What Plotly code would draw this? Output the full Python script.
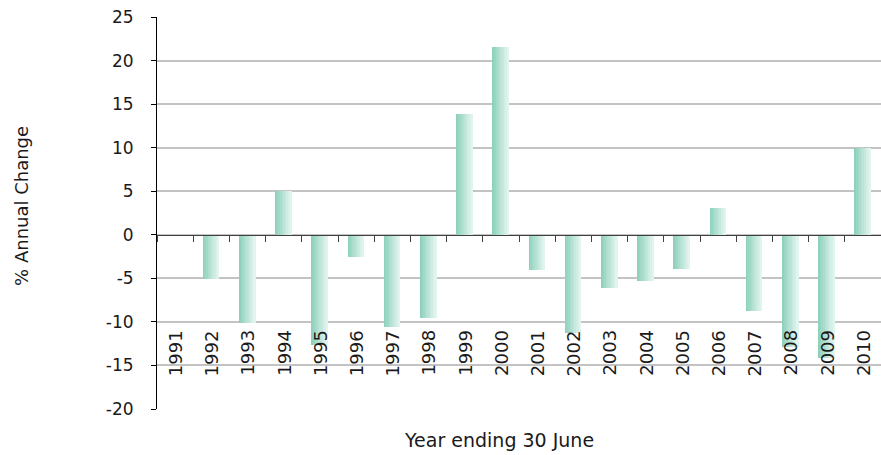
import plotly.graph_objects as go

years = [str(y) for y in range(1991, 2011)]
values = [0.0, -5.1, -10.1, 5.0, -12.6, -2.55, -10.6, -9.55, 13.85, 21.55,
          -4.05, -11.3, -6.1, -5.3, -3.9, 3.05, -8.75, -12.9, -14.2, 10.0]
y_ticks = [25, 20, 15, 10, 5, 0, -5, -10, -15, -20]

FONT = "DejaVu Sans"
TEXT = "#1a1a1a"

# gradient bar simulated with thin vertical strips
left_rgb = (143, 209, 189)
right_rgb = (226, 244, 238)
nstrips = 10
bar_w = 0.44
strip_w = bar_w / nstrips

fig = go.Figure()
for i in range(nstrips):
    t = i / (nstrips - 1)
    c = tuple(round(left_rgb[k] + (right_rgb[k] - left_rgb[k]) * t) for k in range(3))
    fig.add_trace(go.Bar(
        x=years, y=values,
        width=strip_w * 1.02,
        offset=-bar_w / 2 + i * strip_w,
        marker=dict(color="rgb(%d,%d,%d)" % c, line=dict(width=0)),
        showlegend=False, hoverinfo="skip",
    ))

for idx, yr in enumerate(years):
    fig.add_annotation(x=idx, y=-16.45, xref="x", yref="y", text=yr, textangle=-90,
                       showarrow=False, yanchor="bottom", xanchor="center",
                       font=dict(family=FONT, size=18, color=TEXT))

fig.add_annotation(x=0.472, y=-0.079, xref="paper", yref="paper", text="Year ending 30 June",
                   showarrow=False, xanchor="center", yanchor="middle",
                   font=dict(family=FONT, size=19, color=TEXT))
fig.add_annotation(x=-0.1865, y=0.518, xref="paper", yref="paper", text="% Annual Change",
                   textangle=-90, showarrow=False, xanchor="center", yanchor="middle",
                   font=dict(family=FONT, size=18, color=TEXT))

ymin, ymax = -20, 25
fig.update_layout(
    width=881, height=455,
    margin=dict(l=157, r=0, t=17, b=46),
    paper_bgcolor="white", plot_bgcolor="white",
    barmode="overlay", bargap=0,
    font=dict(family=FONT, color=TEXT),
    xaxis=dict(type="category", range=[-0.5, 19.5], anchor="free",
               position=(0 - ymin) / (ymax - ymin),
               showline=True, linecolor="#404040", linewidth=1,
               ticks="outside", tickson="boundaries", ticklen=6, tickcolor="#404040",
               showticklabels=False, showgrid=False, zeroline=False),
    yaxis=dict(range=[ymin, ymax], tickvals=y_ticks, ticktext=[str(v) for v in y_ticks],
               showline=True, linecolor="#000000", linewidth=1,
               ticks="outside", ticklen=5, tickcolor="#000000",
               showgrid=True, gridcolor="#c3c3c3", gridwidth=2, zeroline=False,
               tickfont=dict(family=FONT, size=17, color=TEXT), ticklabelstandoff=14),
)

fig.write_html("out.html")
